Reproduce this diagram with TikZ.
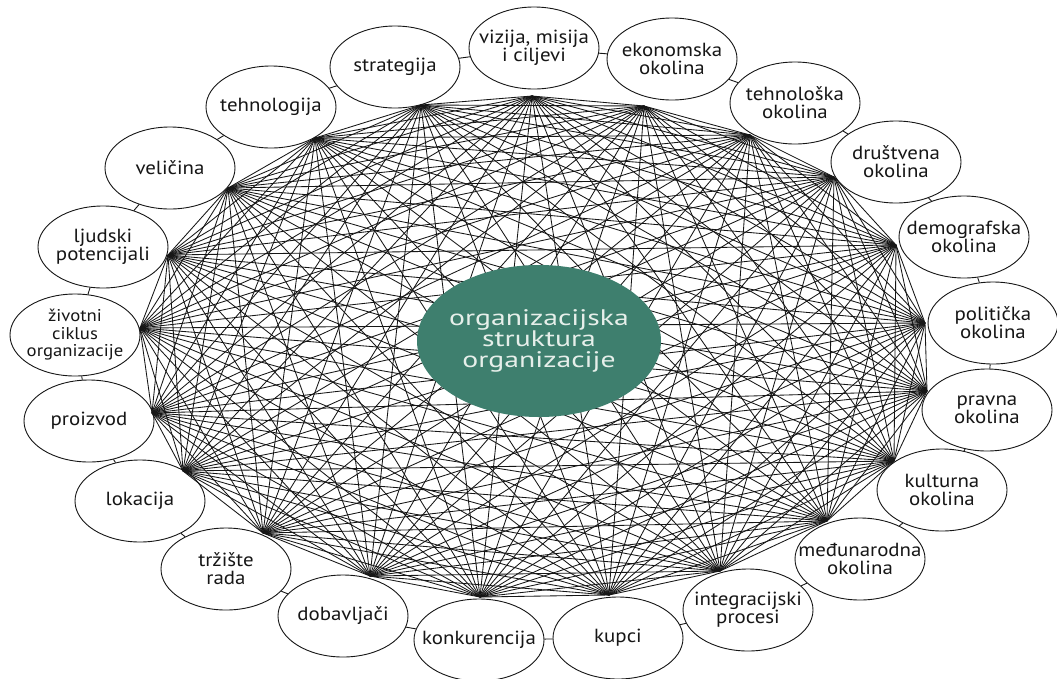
\documentclass[tikz,border=0pt]{standalone}
\usepackage{fontspec}
\setmainfont{PT Sans}[FakeStretch=1.1]
\newfontfamily\corefont{PT Sans}[FakeStretch=1.32]
\usetikzlibrary{shapes.geometric}
\definecolor{core}{HTML}{3E7F6E}
\definecolor{coretxt}{HTML}{E6EFEA}
\definecolor{ink}{HTML}{161616}
\begin{document}
\begin{tikzpicture}[x=1pt,y=-1pt,
  outer/.style={ellipse, draw=ink, line width=0.9pt, fill=white, minimum width=130pt, minimum height=82pt, inner sep=0pt},
  lbl/.style={align=center, font=\fontsize{19}{18}\selectfont, text=ink, inner sep=0pt},
  smalllbl/.style={lbl, font=\fontsize{17}{17.5}\selectfont},
  web/.style={draw=ink, line width=0.85pt},
  tick/.style={draw=ink, line width=0.9pt},
  coreell/.style={ellipse, fill=core, minimum width=244pt, minimum height=152pt, inner sep=0pt},
  coretext/.style={align=center, font=\corefont\fontsize{22.5}{21}\selectfont, text=coretxt, inner sep=0pt}]
\useasboundingbox (0,0) rectangle (1057,678);
\fill[white] (0,0) rectangle (1057,678);
% vertices of the web
\coordinate (v1) at (421,105);
\coordinate (v2) at (532,96);
\coordinate (v3) at (644,106);
\coordinate (v4) at (750,135);
\coordinate (v5) at (834,177);
\coordinate (v6) at (896,245);
\coordinate (v7) at (925,323);
\coordinate (v8) at (927,391);
\coordinate (v9) at (894,461);
\coordinate (v10) at (827,521);
\coordinate (v11) at (720,571);
\coordinate (v12) at (609,595);
\coordinate (v13) at (480,597);
\coordinate (v14) at (370,576);
\coordinate (v15) at (263,533);
\coordinate (v16) at (183,471);
\coordinate (v17) at (152,413);
\coordinate (v18) at (140,328);
\coordinate (v19) at (168,255);
\coordinate (v20) at (228,188);
\coordinate (v21) at (315,138);
% outer ellipses
\node[outer] (n1) at (395,67) {};
\node[outer] (n2) at (534,48) {};
\node[outer] (n3) at (672,59) {};
\node[outer] (n4) at (795,103) {};
\node[outer] (n5) at (896,162) {};
\node[outer] (n6) at (964,237) {};
\node[outer] (n7) at (993,323) {};
\node[outer] (n8) at (987,410) {};
\node[outer] (n9) at (942,490) {};
\node[outer] (n10) at (860,559) {};
\node[outer] (n11) at (748,610) {};
\node[outer] (n12) at (618,638) {};
\node[outer] (n13) at (479,640) {};
\node[outer] (n14) at (343,616) {};
\node[outer] (n15) at (226,569) {};
\node[outer] (n16) at (140,501) {};
\node[outer] (n17) at (89,421) {};
\node[outer] (n18) at (75,335) {};
\node[outer] (n19) at (103,247) {};
\node[outer] (n20) at (170,168) {};
\node[outer] (n21) at (271,107) {};
% ticks between neighbours
\foreach \i [remember=\i as \p (initially 21)] in {1,...,21} {
  \draw[tick] (n\p) -- (n\i);
}
% labels
\node[lbl] (t1) at (n1) {strategija};
\node[lbl] (t2) at (n2) {vizija, misija\\i ciljevi};
\node[lbl] (t3) at (n3) {ekonomska\\okolina};
\node[lbl] (t4) at (n4) {tehnološka\\okolina};
\node[lbl] (t5) at (n5) {društvena\\okolina};
\node[lbl] (t6) at (n6) {demografska\\okolina};
\node[lbl] (t7) at (n7) {politička\\okolina};
\node[lbl] (t8) at (n8) {pravna\\okolina};
\node[lbl] (t9) at (n9) {kulturna\\okolina};
\node[lbl] (t10) at (n10) {međunarodna\\okolina};
\node[lbl] (t11) at (n11) {integracijski\\procesi};
\node[lbl] (t12) at (n12) {kupci};
\node[lbl] (t13) at (n13) {konkurencija};
\node[lbl] (t14) at (n14) {dobavljači};
\node[lbl] (t15) at (n15) {tržište\\rada};
\node[lbl] (t16) at (n16) {lokacija};
\node[lbl] (t17) at (n17) {proizvod};
\node[smalllbl] (t18) at (n18) {životni\\ciklus\\organizacije};
\node[lbl] (t19) at (n19) {ljudski\\potencijali};
\node[lbl] (t20) at (n20) {veličina};
\node[lbl] (t21) at (n21) {tehnologija};
% complete web
\foreach \i in {1,...,20} {
  \pgfmathtruncatemacro{\s}{\i+1}
  \foreach \j in {\s,...,21} {
    \draw[web] (v\i) -- (v\j);
  }
}
% centre
\node[coreell] (c) at (539,341) {};
\node[coretext] (ct) at (c) {organizacijska\\struktura\\organizacije};
\end{tikzpicture}
\end{document}
